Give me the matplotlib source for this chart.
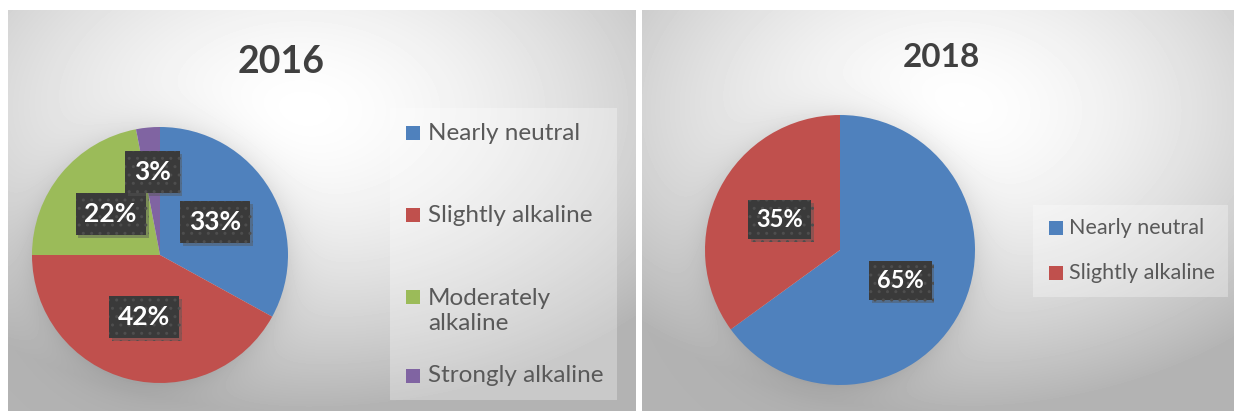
import numpy as np
import matplotlib
matplotlib.use("Agg")
import matplotlib.pyplot as plt
from matplotlib.patches import Rectangle
import matplotlib.patheffects as pe

plt.rcParams['font.family'] = ['Lato', 'DejaVu Sans']

# soil reaction classes, share of samples (%)
labels_2016 = ["Nearly neutral", "Slightly alkaline", "Moderately\nalkaline", "Strongly alkaline"]
values_2016 = [33, 42, 22, 3]
labels_2018 = ["Nearly neutral", "Slightly alkaline"]
values_2018 = [65, 35]

colors = ["#4f81bd", "#c0504d", "#9bbb59", "#8064a2"]

W, H = 1234, 412
fig = plt.figure(figsize=(W / 100, H / 100), dpi=100)
fig.patch.set_facecolor("white")


def frac(x0, y0, x1, y1):
    # pixel box (top-left origin) -> figure fraction rect
    return [x0 / W, 1 - y1 / H, (x1 - x0) / W, (y1 - y0) / H]


def panel_bg(box, pie_c, pie_r, hot):
    x0, y0, x1, y1 = box
    ax = fig.add_axes(frac(*box), zorder=0)
    xs = np.arange(x0, x1)
    ys = np.arange(y0, y1)
    X, Y = np.meshgrid(xs, ys)
    cx, cy = hot
    d = np.hypot((X - cx) / (x1 - x0), (Y - cy) / (y1 - y0))
    g = 1.0 - 0.30 * np.clip(d / 0.75, 0, 1) ** 1.6
    # soft halo around the pie
    dp = np.hypot(X - pie_c[0], Y - pie_c[1]) - pie_r
    g -= 0.08 * np.exp(-np.clip(dp, 0, None) / 16.0) * (dp > -2)
    ax.imshow(g, cmap="gray", vmin=0, vmax=1, extent=(x0, x1, y1, y0),
              aspect="auto", interpolation="bilinear")
    ax.set_axis_off()


def draw_pie(c, r, values, fontsize, dists):
    ax = fig.add_axes(frac(c[0] - r, c[1] - r, c[0] + r, c[1] + r), zorder=2)
    wedges, _ = ax.pie(values, colors=colors[:len(values)], startangle=90,
                       counterclock=False, radius=1,
                       wedgeprops=dict(linewidth=0))
    ax.set_xlim(-1, 1)
    ax.set_ylim(-1, 1)
    ax.set_aspect("equal")
    for w, v, dd in zip(wedges, values, dists):
        a = np.deg2rad((w.theta1 + w.theta2) / 2)
        t = ax.text(dd * np.cos(a), dd * np.sin(a), f"{v}%", ha="center", va="center",
                    color="white", fontsize=fontsize, fontweight="bold",
                    bbox=dict(boxstyle="square,pad=0.34", fc="#3a3a3a",
                              ec="#4e4e4e", lw=0, hatch=".."))
        t.get_bbox_patch().set_path_effects(
            [pe.SimplePatchShadow(offset=(2, -2), shadow_rgbFace="#555555", alpha=0.45),
             pe.Normal()])
    return ax


# backgrounds
panel_bg((8, 10, 636, 411), (160, 255), 128, (300, 110))
panel_bg((642, 10, 1234, 411), (840, 250), 135, (950, 110))

draw_pie((160, 255), 128, values_2016, 19, [0.5, 0.5, 0.5, 0.65])
draw_pie((840, 250), 135, values_2018, 17, [0.5, 0.5])

# overlay in pixel coordinates for titles and legends
ov = fig.add_axes([0, 0, 1, 1], zorder=3)
ov.set_xlim(0, W)
ov.set_ylim(H, 0)
ov.set_axis_off()
ov.patch.set_alpha(0)

ov.text(281, 62, "2016", ha="center", va="center", fontsize=27,
        fontweight="bold", color="#404040")
ov.text(941, 57, "2018", ha="center", va="center", fontsize=24,
        fontweight="bold", color="#404040")

# legend 2016
ov.add_patch(Rectangle((390, 108), 227, 292, fc="white", ec="none", alpha=0.3))
leg_y = [133, 215, 311, 376]
for lab, col, y in zip(labels_2016, colors, leg_y):
    n = lab.count("\n")
    ov.add_patch(Rectangle((406, y - 7 - n * 14), 14, 14, fc=col, ec="none"))
    ov.text(428, y, lab, ha="left", va="center", fontsize=17.5, color="#595959",
            linespacing=1.25)

# legend 2018
ov.add_patch(Rectangle((1033, 205), 195, 92, fc="white", ec="none", alpha=0.3))
for lab, col, y in zip(labels_2018, colors, [228, 273]):
    ov.add_patch(Rectangle((1049, y - 7), 14, 14, fc=col, ec="none"))
    ov.text(1069, y, lab, ha="left", va="center", fontsize=15.5, color="#595959")

fig.savefig("out.png", dpi=100)
